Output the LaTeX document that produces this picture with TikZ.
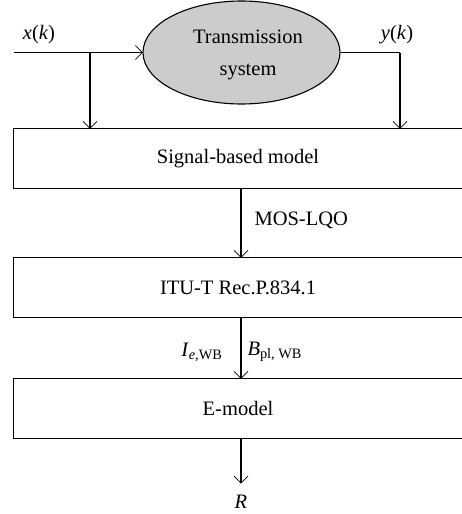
\documentclass[tikz,border=0pt]{standalone}
\usepackage{fontspec}
\setmainfont{Liberation Serif}
\usetikzlibrary{arrows.meta,shapes.geometric}
\begin{document}
\begin{tikzpicture}[x=1pt,y=-1pt,
  line width=1.1pt,
  font=\fontsize{20.5}{24}\selectfont,
  arr/.style={-{Straight Barb[length=7pt,width=14pt,line width=0.7pt,sep=0pt]},shorten >=-0.5pt},
  blk/.style={minimum width=448pt,minimum height=59pt,inner sep=0pt},
  lbl/.style={inner sep=0pt}]
\useasboundingbox (0,0) rectangle (462,514);
% ellipse
\node[ellipse,draw,fill=gray!40,minimum width=197pt,minimum height=103pt,inner sep=0pt] (ts) at (241.5,52.5) {};
\node[lbl,align=center,font=\fontsize{20.5}{32}\selectfont] (tstext) at (248,55) {Transmission\\system};
% boxes
\node[blk] (sig) at (238,158.5) {Signal-based model};
\node[blk] (itu) at (238,287.5) {ITU-T Rec.P.834.1};
\node[blk] (em) at (238,408.5) {E-model};
\foreach \b in {sig,itu,em}{
  \draw (\b.north east) -- (\b.north west) -- (\b.south west) -- (\b.south east);
}
% coordinates
\coordinate (xin) at (14,52.5);
\coordinate (xb) at (90,52.5);
\coordinate (yb) at (400,52.5);
\coordinate (rend) at (241,483);
% connectors
\draw[arr] (xin) -- (ts.west);
\draw[arr] (xb) -- (xb |- sig.north);
\draw (ts.east) -- (yb);
\draw[arr] (yb) -- (yb |- sig.north);
\draw[arr] (241,0 |- sig.south) -- (241,0 |- itu.north);
\draw[arr] (241,0 |- itu.south) -- (241,0 |- em.north);
\draw[arr] (241,0 |- em.south) -- (rend);
% labels
\node[lbl] (xk) at (39,35) {\textit{x}(\textit{k})};
\node[lbl] (yk) at (397,35) {\textit{y}(\textit{k})};
\node[lbl,anchor=west] (mos) at (254,220) {MOS-LQO};
\node[lbl,anchor=east] (ie) at (223,352) {\textit{I}\textsubscript{\textit{e},WB}};
\node[lbl,anchor=west] (bpl) at (247,352) {\textit{B}\textsubscript{pl, WB}};
\node[lbl] (r) at (241,502) {\textit{R}};
\end{tikzpicture}
\end{document}
